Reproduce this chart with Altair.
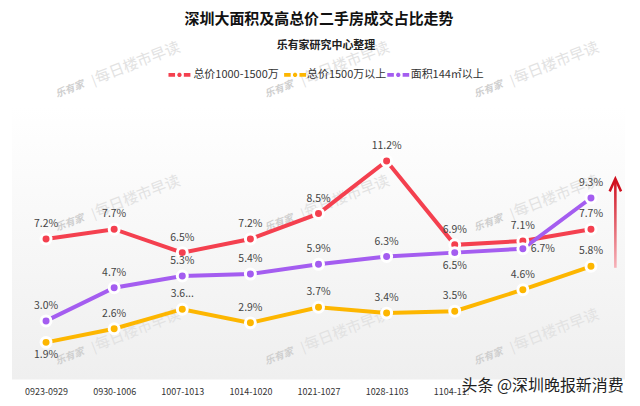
import altair as alt
import pandas as pd

FONT = "Noto Sans CJK SC"

# ---- data ----
periods = ["0923-0929", "0930-1006", "1007-1013", "1014-1020", "1021-1027",
           "1028-1103", "1104-1110", "1111-1117", "1118-1124"]
series_names = ["总价1000-1500万", "总价1500万以上", "面积144㎡以上"]
red_values = [7.2, 7.7, 6.5, 7.2, 8.5, 11.2, 6.9, 7.1, 7.7]
yellow_values = [1.9, 2.6, 3.6, 2.9, 3.7, 3.4, 3.5, 4.6, 5.8]
purple_values = [3.0, 4.7, 5.3, 5.4, 5.9, 6.3, 6.5, 6.7, 9.3]
red_label_side = ["above"] * 9
yellow_label_side = ["below"] + ["above"] * 8
purple_label_side = ["above"] * 6 + ["below", "right", "above"]
truncated_labels = {("总价1500万以上", "1007-1013"): "3.6..."}
colors = ["#F4404F", "#FDB600", "#A45DF0"]

title_text = "深圳大面积及高总价二手房成交占比走势"
subtitle_text = "乐有家研究中心整理"
footer_text = "头条 @深圳晚报新消费"

rows = []
for name, vals, sides in [(series_names[0], red_values, red_label_side),
                          (series_names[1], yellow_values, yellow_label_side),
                          (series_names[2], purple_values, purple_label_side)]:
    for p, v, s in zip(periods, vals, sides):
        rows.append({"period": p, "series": name, "value": v, "side": s,
                     "label": truncated_labels.get((name, p), f"{v:.1f}%")})
df = pd.DataFrame(rows)

# legend layout (decoration, pixel offsets from the plot's top-left)
legend_df = pd.DataFrame({"key": series_names,
                          "sx": [168, 284, 387.5],
                          "tx": [182, 296, 400],
                          "ly": [-31.5] * 3})

# watermark grid (decoration)
wm_rows = []
for r in range(3):
    for c in range(3):
        bx = 58 + 210 * c
        by = -17 + 134 * r
        wm_rows.append({"wx": bx, "wy": by, "t": "乐有家", "k": "logo"})
        wm_rows.append({"wx": bx + 24, "wy": by - 9, "t": "|", "k": "bar"})
        wm_rows.append({"wx": bx + 68, "wy": by - 27, "t": "每日楼市早读", "k": "name"})
wm = pd.DataFrame(wm_rows)

W, H = 615, 274
one = alt.Data(values=[{"a": 1}])
color_scale = alt.Scale(domain=series_names, range=colors)

x_enc = alt.X("period:N", sort=periods,
              scale=alt.Scale(type="point", padding=0.5),
              axis=alt.Axis(title=None, labelAngle=0, ticks=False, domain=False,
                            grid=False, labelFontSize=9, labelColor="#333",
                            labelFont=FONT, labelPadding=8))
y_enc = alt.Y("value:Q", scale=alt.Scale(domain=[0, 14]), axis=None)

bg = alt.Chart(one).mark_rect(
    fill=alt.Gradient(gradient="linear", x1=0, x2=0, y1=0, y2=1,
                      stops=[alt.GradientStop(offset=0, color="#ffffff"),
                             alt.GradientStop(offset=1, color="#efefef")])
).encode(x=alt.value(0), x2=alt.value(W), y=alt.value(0), y2=alt.value(H))

wm_base = alt.Chart(wm).encode(
    x=alt.X("wx:Q", scale=None, axis=None),
    y=alt.Y("wy:Q", scale=None, axis=None),
    text="t:N")
wm_logo = wm_base.transform_filter(alt.datum.k == "logo").mark_text(
    fontSize=10, fontWeight="bold", fontStyle="italic", color="#cfcfcf", angle=339, font=FONT)
wm_bar = wm_base.transform_filter(alt.datum.k == "bar").mark_text(
    fontSize=12, color="#dddddd", angle=339, font=FONT)
wm_name = wm_base.transform_filter(alt.datum.k == "name").mark_text(
    fontSize=15, color="#e2e2e2", angle=339, font=FONT)

title = alt.Chart(one).mark_text(
    text=title_text, fontSize=15, fontWeight="bold", color="#111", font=FONT,
    align="center", baseline="middle").encode(x=alt.value(308), y=alt.value(-88))
subtitle = alt.Chart(one).mark_text(
    text=subtitle_text, fontSize=11, fontWeight="bold", color="#222", font=FONT,
    align="center", baseline="middle").encode(x=alt.value(315), y=alt.value(-61))

sym = ("M-1,-0.17L-0.4,-0.17L-0.4,0.17L-1,0.17Z "
       "M0.4,-0.17L1,-0.17L1,0.17L0.4,0.17Z "
       "M-0.08,-0.19L0.08,-0.19L0.19,-0.08L0.19,0.08L0.08,0.19L-0.08,0.19L-0.19,0.08L-0.19,-0.08Z")
leg_sym = alt.Chart(legend_df).mark_point(
    shape=sym, size=484, filled=True, opacity=1, strokeWidth=0
).encode(x=alt.X("sx:Q", scale=None, axis=None), y=alt.Y("ly:Q", scale=None, axis=None),
         fill=alt.Fill("key:N", scale=color_scale, legend=None))
leg_txt = alt.Chart(legend_df).mark_text(
    align="left", baseline="middle", fontSize=11, color="#333", font=FONT
).encode(x=alt.X("tx:Q", scale=None, axis=None), y=alt.Y("ly:Q", scale=None, axis=None),
         text="key:N")

lines = alt.Chart(df).mark_line(strokeWidth=4).encode(
    x=x_enc, y=y_enc,
    stroke=alt.Stroke("series:N", scale=color_scale, legend=None))

points = alt.Chart(df).mark_circle(size=100, opacity=1, stroke="white", strokeWidth=3).encode(
    x=x_enc, y=y_enc,
    color=alt.Color("series:N", scale=color_scale, legend=None))

lab_base = alt.Chart(df).encode(x=x_enc, y=y_enc, text="label:N")
lab_above = lab_base.transform_filter(alt.datum.side == "above").mark_text(
    dy=-15, fontSize=10.5, color="#444", font=FONT)
lab_below = lab_base.transform_filter(alt.datum.side == "below").mark_text(
    dy=13, fontSize=10.5, color="#444", font=FONT)
lab_right = lab_base.transform_filter(alt.datum.side == "right").mark_text(
    dx=8, align="left", fontSize=10.5, color="#444", font=FONT)

arrow_shaft = alt.Chart(one).mark_rect(
    fill=alt.Gradient(gradient="linear", x1=0, x2=0, y1=0, y2=1,
                      stops=[alt.GradientStop(offset=0, color="#d0101f"),
                             alt.GradientStop(offset=1, color="#f7b3ba")])
).encode(x=alt.value(604), x2=alt.value(606.6), y=alt.value(74), y2=alt.value(162))
arrow_head = alt.Chart(one).mark_point(
    shape="M-0.9,1L0,-1L0.9,1", size=161, filled=False, stroke="#d0101f",
    strokeWidth=2.5, opacity=1, strokeJoin="miter"
).encode(x=alt.value(605.3), y=alt.value(79))

footer_box = alt.Chart(one).mark_rect(fill="white").encode(
    x=alt.value(458), x2=alt.value(618), y=alt.value(275), y2=alt.value(293))
footer = alt.Chart(one).mark_text(
    text=footer_text, fontSize=16, color="#1f1f1f", align="left", baseline="middle", font=FONT
).encode(x=alt.value(451), y=alt.value(281))

chart = alt.layer(
    bg, wm_logo, wm_bar, wm_name, title, subtitle, leg_sym, leg_txt, lines, points,
    lab_above, lab_below, lab_right, arrow_shaft, arrow_head, footer_box, footer
).properties(
    width=W, height=H,
    padding={"left": 4, "top": 3, "right": 4, "bottom": 2},
).configure_view(stroke=None)

chart.save("out.html", embed_options={"renderer": "svg", "actions": False})
